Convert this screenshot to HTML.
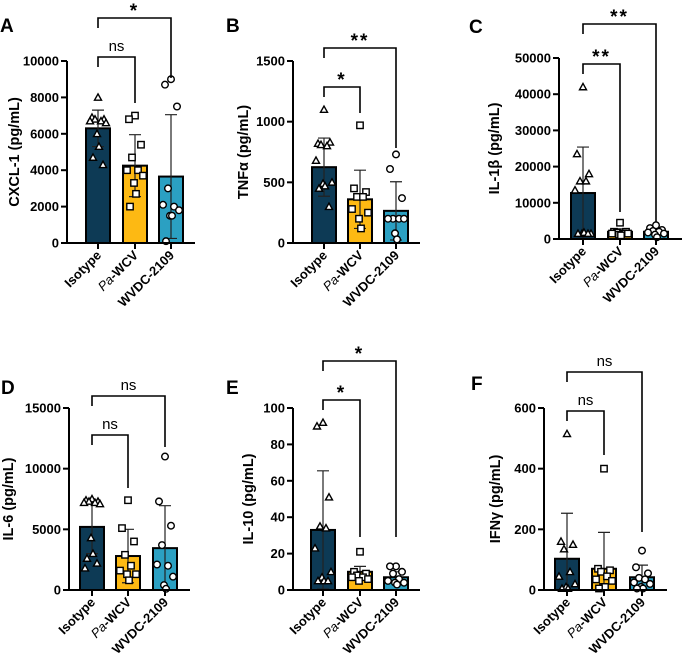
<!DOCTYPE html>
<html><head><meta charset="utf-8"><style>
html,body{margin:0;padding:0;background:#fff;}
svg{display:block;font-family:"Liberation Sans",Arial,sans-serif;}
</style></head><body>
<svg id="fig" width="683" height="664" viewBox="0 0 683 664"></svg>
<script>
const categories = ["Isotype", "Pa-WCV", "WVDC-2109"];
const aMeans = [6300, 4250, 3650]; const aSD = [1000, 1700, 3400];
const aIso = [8000,6900,6800,6800,6700,6700,6600,6000,5300,4700,4300];
const aPa = [7000,6800,5400,4700,4000,4000,3700,3300,2700,2000];
const aWv = [9000,8700,7500,3000,2000,2100,1800,1500,1500,100];
const bMeans = [625, 360, 265]; const bSD = [240, 240, 240];
const bIso = [1100,820,830,810,800,680,500,490,470,450,300];
const bPa = [970,450,420,380,380,280,250,200,120];
const bWv = [730,610,370,200,200,200,200,80,30];
const cMeans = [12700, 2000, 2000]; const cSD = [12700, 800, 800];
const cIso = [42000,23500,18000,16000,16000,13500,1500,1500,1800,1500,1500];
const cPa = [4500,2000,2000,1800,1500,1500,1500,1200,1000];
const cWv = [3800,3000,2500,2200,2000,1800,1500,1200,500];
const dMeans = [5200, 2800, 3450]; const dSD = [2200, 2200, 3500];
const dIso = [7500,7400,7300,7300,7200,7200,7100,4300,3000,2600,2200,1800];
const dPa = [7400,5100,4000,2900,2000,1600,1300,1300,800];
const dWv = [11000,7300,5300,3700,2000,2100,1100,400,100];
const eMeans = [33, 10, 7]; const eSD = [32.5, 3, 3];
const eIso = [92,90,51,35,34,23,10,7,5,5,5];
const ePa = [21,10,9,8,7,7,6,5];
const eWv = [13,13,10,9,6,5,4,4,3];
const fMeans = [103, 70, 42]; const fSD = [150, 120, 40];
const fIso = [515,160,150,135,60,45,20,10,5,5];
const fPa = [400,70,65,60,45,35,30,10,10,5];
const fWv = [130,75,55,40,35,25,20,10,5,5];
const aTicks = [0,2000,4000,6000,8000,10000];
const bTicks = [0,500,1000,1500];
const cTicks = [0,10000,20000,30000,40000,50000];
const dTicks = [0,5000,10000,15000];
const eTicks = [0,20,40,60,80,100];
const fTicks = [0,200,400,600];
const aSig = ["ns","*"], bSig = ["*","**"], cSig = ["**","**"], dSig = ["ns","ns"], eSig = ["*","*"], fSig = ["ns","ns"];

const NS = "http://www.w3.org/2000/svg";
const svg = document.getElementById("fig");
const colors = ["#0d3a55","#fdb913","#2ba0c2"];
function mk(tag, attrs, parent){const e=document.createElementNS(NS,tag);for(const k in attrs)e.setAttribute(k,attrs[k]);(parent||svg).appendChild(e);return e;}

function panel(p){
  const g = mk("g",{});
  
  
  const max = p.ticks[p.ticks.length-1];
  const y = v => p.y0 - (v/max)*(p.y0-p.yt);
  const L = mk("text",{x:p.lx,y:p.ly,"font-size":19,"font-weight":"bold"},g); L.textContent=p.letter;
  
  
  p.means.forEach((m,i)=>{
    const cx=p.bx[i];
    const r=mk("rect",{x:cx-12,y:y(m),width:24,height:p.y0-y(m),fill:colors[i],stroke:"#000","stroke-width":2},g);
    
    
    const top=y(m+p.sd[i]), bot=y(Math.max(0,m-p.sd[i]));
    const eb=mk("path",{d:`M${cx},${top}V${bot}M${cx-6},${top}H${cx+6}M${cx-6},${bot}H${cx+6}`,stroke:"#222","stroke-width":1.2,fill:"none"},g);
    
    
  });
  p.pts.forEach((arr,i)=>{
    const cx=p.bx[i];
    const offs=[0,-6,6,-3,3,-8,8,-1,1,-5,5,-7,7];
    arr.forEach((v,j)=>{
      const px=cx+offs[j%offs.length], py=y(v);
      let s;
      if(i===0) s=mk("path",{d:`M${px},${py-3.5}L${px+3.5},${py+2.8}L${px-3.5},${py+2.8}Z`},g);
      else if(i===1) s=mk("rect",{x:px-3.2,y:py-3.2,width:6.4,height:6.4},g);
      else s=mk("circle",{cx:px,cy:py,r:3.3},g);
      s.setAttribute("fill","#fff");s.setAttribute("stroke","#000");s.setAttribute("stroke-width",1.4);
      
      
    });
  });
  const ax=mk("path",{d:`M${p.ax},${p.yt}V${p.y0}H${p.xe}`,stroke:"#000","stroke-width":2,fill:"none"},g);
  
  
  p.ticks.forEach(t=>{
    mk("line",{x1:p.ax-6,x2:p.ax,y1:y(t),y2:y(t),stroke:"#000","stroke-width":2},g);
    const tx=mk("text",{x:p.ax-8,y:y(t)+4.5,"text-anchor":"end","font-size":13,"font-weight":"bold"},g);
    tx.textContent=t;
    
    
  });
  p.bx.forEach((cx,i)=>{
    mk("line",{x1:cx,x2:cx,y1:p.y0,y2:p.y0+6,stroke:"#000","stroke-width":2},g);
    const t=mk("text",{transform:`translate(${cx+4},${p.y0+13}) rotate(-45)`,"text-anchor":"end","font-size":13,"font-weight":"bold"},g);
    if(i===1){t.innerHTML='<tspan font-style="italic" font-weight="normal">Pa</tspan>-WCV';}
    else t.textContent=categories[i];
    
    
  });
  const yt=mk("text",{transform:`translate(${p.ax-p.to},${(p.y0+p.yt)/2}) rotate(-90)`,"text-anchor":"middle","font-size":14.5,"font-weight":"bold"},g);
  yt.textContent=p.title;
  
  
  p.br.forEach((b,k)=>{
    const x1=p.bx[0], x2=p.bx[k+1];
    const bp=mk("path",{d:`M${x1},${b[0]+10}V${b[0]}H${x2}V${b[1]}`,stroke:"#000","stroke-width":1.6,fill:"none"},g);
    
    
    const lab=p.sig[k];
    const bt=mk("text",{x:(x1+x2)/2,y:lab==="ns"?b[0]-6:b[0]-1,"text-anchor":"middle","font-size":lab==="ns"?15:19,"font-weight":lab==="ns"?"normal":"bold","letter-spacing":lab==="ns"?0:2},g);
    bt.textContent=lab;
    
    
  });
}
panel({letter:"A",lx:0,ly:32,title:"CXCL-1 (pg/mL)",to:48,ax:67,y0:243,yt:61,xe:195,bx:[98,135,171],ticks:aTicks,means:aMeans,sd:aSD,pts:[aIso,aPa,aWv],sig:aSig,br:[[57,103],[18,78]]});
panel({letter:"B",lx:226,ly:32,title:"TNFα (pg/mL)",to:45,ax:293,y0:243,yt:61,xe:420,bx:[324,360,396],ticks:bTicks,means:bMeans,sd:bSD,pts:[bIso,bPa,bWv],sig:bSig,br:[[87,113],[48,148]]});
panel({letter:"C",lx:469,ly:33,title:"IL-1β (pg/mL)",to:60,ax:559,y0:239,yt:58,xe:682,bx:[583,620,656],ticks:cTicks,means:cMeans,sd:cSD,pts:[cIso,cPa,cWv],sig:cSig,br:[[64,212],[24,222]]});
panel({letter:"D",lx:1,ly:394,title:"IL-6 (pg/mL)",to:56,ax:69,y0:590,yt:408,xe:190,bx:[92,128,165],ticks:dTicks,means:dMeans,sd:dSD,pts:[dIso,dPa,dWv],sig:dSig,br:[[435,488],[396,447]]});
panel({letter:"E",lx:226,ly:394,title:"IL-10 (pg/mL)",to:40,ax:293,y0:590,yt:408,xe:420,bx:[323,360,396],ticks:eTicks,means:eMeans,sd:eSD,pts:[eIso,ePa,eWv],sig:eSig,br:[[400,537],[361,537]]});
panel({letter:"F",lx:471,ly:390,title:"IFNγ (pg/mL)",to:44,ax:544,y0:590,yt:408,xe:667,bx:[567,604,642],ticks:fTicks,means:fMeans,sd:fSD,pts:[fIso,fPa,fWv],sig:fSig,br:[[411,455],[372,532]]});
</script>
</body></html>
